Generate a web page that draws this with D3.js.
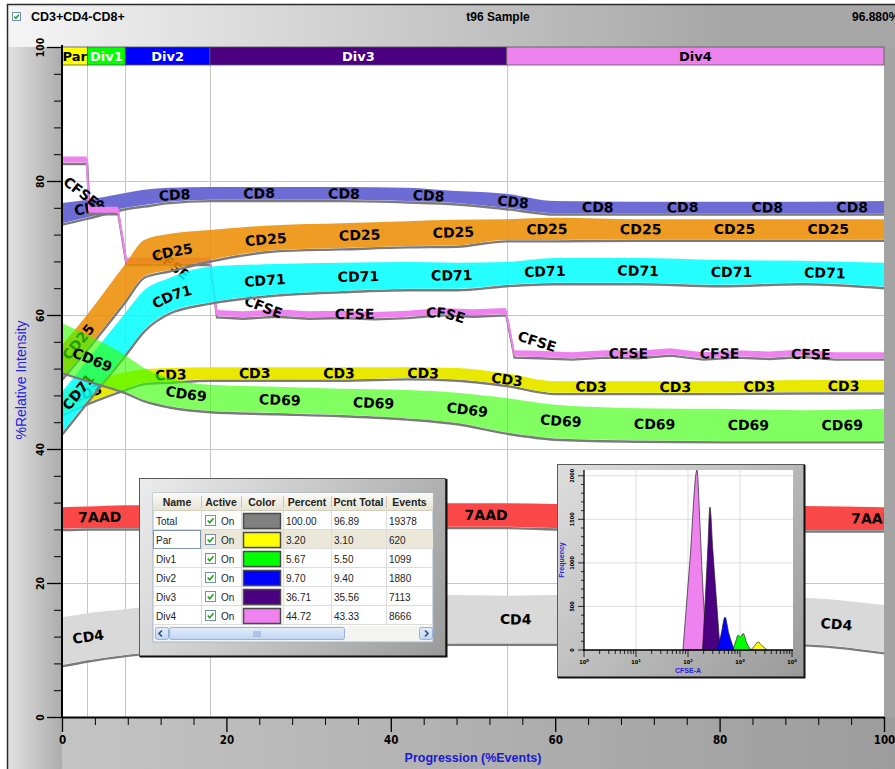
<!DOCTYPE html>
<html>
<head>
<meta charset="utf-8">
<title>t96 Sample – CD3+CD4-CD8+</title>
<script src="https://cdn.jsdelivr.net/npm/d3@7/dist/d3.min.js"></script>
<style>
  html, body { margin: 0; padding: 0; background: #fff; }
  svg { display: block; }
  .band-label { font-family: "DejaVu Sans", Verdana, sans-serif; font-weight: bold; font-size: 14px; fill: #000; dominant-baseline: central; }
  .tick-narrow { font-family: "Liberation Sans Narrow", "DejaVu Sans Condensed", "Arial Narrow", sans-serif; font-weight: bold; }
</style>
</head>
<body>
<svg id="chart" width="895" height="769"></svg>
<script>
// ---------------- data ----------------
// progression grid (%Events) shared by the marker ribbons
const progress = [0, 3.1, 7.7, 10, 13, 18, 26, 34, 42, 48, 54, 60, 70, 80, 90, 100];

// ribbon upper / lower edges, % relative intensity
const cd8Hi  = [76.7, 77.2, 78.2, 78.7, 79.0, 79.1, 79.1, 79.1, 79.0, 78.5, 78.1, 77.0, 76.9, 76.9, 76.9, 77.0];
const cd8Lo  = [73.7, 74.6, 76.0, 76.4, 76.9, 77.2, 77.2, 77.2, 77.0, 76.7, 76.0, 75.2, 75.2, 75.2, 75.2, 75.2];
const cd25Hi = [55.5, 60.1, 67.6, 71.2, 72.1, 72.7, 73.4, 73.7, 74.0, 74.2, 74.3, 74.5, 74.3, 74.3, 74.3, 74.3];
const cd25Lo = [50.6, 55.1, 62.2, 65.8, 66.7, 68.2, 69.7, 70.0, 70.3, 70.4, 71.2, 71.2, 71.3, 71.3, 71.3, 71.3];
const cd71Hi = [48.5, 53.3, 60.3, 63.7, 65.5, 67.2, 67.6, 67.8, 67.9, 67.8, 67.9, 68.5, 68.5, 68.2, 68.1, 67.8];
const cd71Lo = [42.4, 47.2, 54.2, 57.8, 60.4, 61.9, 63.1, 63.6, 63.9, 63.9, 64.5, 64.8, 64.8, 64.5, 64.8, 64.2];
const cd3Hi  = [48.8, 49.9, 51.5, 51.9, 52.1, 52.2, 52.2, 52.2, 52.2, 52.1, 51.3, 50.1, 50.1, 50.1, 50.3, 50.3];
const cd3Lo  = [45.2, 46.9, 49.0, 49.9, 50.1, 50.4, 50.4, 50.4, 50.6, 50.4, 49.6, 48.4, 48.4, 48.4, 48.5, 48.5];
const cd69Hi = [58.8, 57.0, 54.0, 52.1, 50.6, 49.6, 49.3, 49.0, 48.8, 48.4, 47.6, 46.6, 46.1, 46.0, 45.8, 46.0];
const cd69Lo = [51.5, 50.3, 48.5, 47.3, 46.4, 45.7, 45.4, 45.1, 44.6, 43.9, 42.5, 41.6, 41.3, 41.2, 41.2, 41.2];
const aadHi  = [31.3, 31.4, 31.6, 31.6, 31.6, 31.6, 31.7, 31.8, 31.9, 31.9, 31.9, 31.8, 31.6, 31.6, 31.5, 31.3];
const aadLo  = [28.1, 28.2, 28.2, 28.2, 28.2, 28.2, 28.3, 28.4, 28.4, 28.4, 28.4, 28.2, 28.1, 28.1, 27.9, 27.9];
const cd4Hi  = [14.9, 15.5, 16.1, 16.4, 16.7, 17.0, 17.5, 17.8, 18.1, 18.2, 18.1, 18.2, 18.1, 18.0, 17.8, 16.7];
const cd4Lo  = [7.8, 8.5, 9.3, 9.6, 9.8, 10.0, 10.4, 10.7, 10.9, 11.0, 11.0, 11.0, 11.0, 11.0, 10.9, 9.7];

// CFSE intensity steps down with each division
const cfseProgress = [0, 3.0, 3.3, 6.8, 7.8, 12, 18.0, 18.8, 22, 26, 30, 34, 38, 42, 46, 50, 54.0, 55.0, 58, 62, 66, 70, 74, 78, 82, 86, 90, 94, 100];
const cfseLevel    = [83.2, 83.2, 75.7, 75.7, 68.1, 68.1, 68.1, 60.3, 60.1, 60.4, 60.1, 60.2, 60.0, 60.2, 60.6, 60.4, 60.6, 54.3, 54.2, 54.0, 54.3, 54.2, 54.6, 54.0, 54.3, 54.1, 54.4, 54.0, 54.0];

// division gates along the progression axis
const divisionNames  = ["Par", "Div1", "Div2", "Div3", "Div4"];
const divisionBounds = [0, 3.1, 7.7, 18.0, 54.1, 100];

// population table
const tableHeaders   = ["Name", "Active", "Color", "Percent", "Pcnt Total", "Events"];
const tableNames     = ["Total", "Par", "Div1", "Div2", "Div3", "Div4"];
const tablePercent   = [100.00, 3.20, 5.67, 9.70, 36.71, 44.72];
const tablePcntTotal = [96.89, 3.10, 5.50, 9.40, 35.56, 43.33];
const tableEvents    = [19378, 620, 1099, 1880, 7113, 8666];

// CFSE-A histogram per generation: [CFSE-A, frequency]
const histPar  = [[1620, 0], [1950, 55], [2220, 92], [2650, 50], [3300, 0]];
const histDiv1 = [[733, 0], [850, 120], [914, 170], [1030, 150], [1148, 190], [1350, 80], [1620, 0]];
const histDiv2 = [[355, 0], [430, 170], [515, 378], [610, 190], [780, 0]];
const histDiv3 = [[190, 0], [222, 750], [242, 1200], [264, 1640], [300, 1150], [345, 650], [415, 0]];
const histDiv4 = [[80, 0], [109, 1030], [149, 2066], [168, 1500], [190, 800], [215, 250], [235, 0]];
const histTicksY = [0, 500, 1000, 1500, 2000];

// ---------------- styles ----------------
const divisionColors = { Par: "#ffff00", Div1: "#00ff00", Div2: "#0000ff", Div3: "#4b0082", Div4: "#ee82ee", Total: "#808080" };
const divisionText   = { Par: "#000", Div1: "#fff", Div2: "#fff", Div3: "#fff", Div4: "#000" };
const markerStyle = {
  CD4:  { color: "#d9d9d9", opacity: 1,    labelStart: 3.2, labelStep: 13.0 },
  "7AAD": { color: "#fa4848", opacity: 1,  labelStart: 4.6, labelStep: 11.75 },
  CD8:  { color: "#6c6cd4", opacity: 1,    labelStart: 3.4, labelStep: 10.3 },
  CFSE: { color: "#ee82ee", opacity: 1,    labelStart: 2.3, labelStep: 11.1, smooth: 8, core: 2 },
  CD3:  { color: "#e8e800", opacity: 1,    labelStart: 3.0, labelStep: 10.23 },
  CD71: { color: "#00ffff", opacity: 0.85, labelStart: 2.0, labelStep: 11.35 },
  CD25: { color: "#eb8c00", opacity: 0.86, labelStart: 2.0, labelStep: 11.4 },
  CD69: { color: "#33ff00", opacity: 0.62, labelStart: 3.7, labelStep: 11.4 }
};
const CFSE_HALF = 0.45;

// ---------------- scaffolding ----------------
const W = 895, H = 769;
const svg = d3.select("#chart");
const defs = svg.append("defs");

function linGrad(id, x1, y1, x2, y2, stops) {
  const g = defs.append("linearGradient").attr("id", id).attr("gradientUnits", "userSpaceOnUse")
    .attr("x1", x1).attr("y1", y1).attr("x2", x2).attr("y2", y2);
  stops.forEach(([o, c]) => g.append("stop").attr("offset", o).attr("stop-color", c));
}
linGrad("gHead", 7, 0, 720, 0, [[0, "#f5f5f5"], [1, "#a7a7a7"]]);
linGrad("gLeft", 7, 0, 62, 0, [[0, "#e2e2e2"], [1, "#acacac"]]);
linGrad("gBottom", 62, 0, 895, 0, [[0, "#c4c4c4"], [1, "#9c9c9c"]]);
linGrad("gTable", 139, 478, 446, 657, [[0, "#ececec"], [0.5, "#c4c4c4"], [1, "#9a9a9a"]]);
linGrad("gHist", 557, 464, 805, 678, [[0, "#dedede"], [0.5, "#bcbcbc"], [1, "#999"]]);
linGrad("gHeadRow", 0, 493, 0, 511, [[0, "#fbfaf5"], [1, "#e6e3d4"]]);
linGrad("gThumb", 0, 627, 0, 641, [[0, "#e4eefc"], [1, "#bcd2f2"]]);

// window background panels
svg.append("rect").attr("width", W).attr("height", H).attr("fill", "#fff");
svg.append("rect").attr("x", 7).attr("y", 4).attr("width", W - 7).attr("height", 44).attr("fill", "url(#gHead)");
svg.append("rect").attr("x", 7).attr("y", 47).attr("width", 55).attr("height", H - 47).attr("fill", "url(#gLeft)");
svg.append("rect").attr("x", 62).attr("y", 717).attr("width", W - 62).attr("height", H - 717).attr("fill", "url(#gBottom)");
svg.append("rect").attr("x", 884).attr("y", 47).attr("width", 11).attr("height", 670).attr("fill", "#a3a3a3");
svg.append("path").attr("d", `M7.5,${H}V4.5H${W}`).attr("fill", "none").attr("stroke", "#2a2a2a").attr("stroke-width", 1.5);

// title row
const chk = (g, cx, cy, s) => {
  g.append("rect").attr("x", cx).attr("y", cy).attr("width", s).attr("height", s)
    .attr("fill", "#fff").attr("stroke", "#6f8fb3").attr("stroke-width", 1);
  g.append("path").attr("d", `M${cx + s * 0.22},${cy + s * 0.5} L${cx + s * 0.42},${cy + s * 0.72} L${cx + s * 0.8},${cy + s * 0.28}`)
    .attr("fill", "none").attr("stroke", "#22a122").attr("stroke-width", 1.6);
};
chk(svg, 12.5, 12.5, 8);
svg.append("text").attr("x", 31).attr("y", 21).attr("font-family", "Liberation Sans, Arial, sans-serif")
  .attr("font-weight", "bold").attr("font-size", 12.5).text("CD3+CD4-CD8+");
svg.append("text").attr("x", 498).attr("y", 21).attr("text-anchor", "middle").attr("font-family", "Liberation Sans, Arial, sans-serif")
  .attr("font-weight", "bold").attr("font-size", 12).text("t96 Sample");
svg.append("text").attr("x", 852).attr("y", 21).attr("font-family", "Liberation Sans, Arial, sans-serif")
  .attr("font-weight", "bold").attr("font-size", 12).text("96.880%");

// ---------------- main plot ----------------
const plotL = 62, plotR = 884, plotT = 47, plotB = 717;
const x = d3.scaleLinear().domain([0, 100]).range([plotL, plotR]);
const y = d3.scaleLinear().domain([0, 100]).range([plotB, plotT]);

svg.append("rect").attr("x", plotL).attr("y", plotT).attr("width", plotR - plotL).attr("height", plotB - plotT).attr("fill", "#fff");

const grid = svg.append("g").attr("stroke", "#c6c6c6").attr("stroke-width", 1);
[20, 40, 60, 80].forEach(v => grid.append("line").attr("x1", plotL).attr("x2", plotR).attr("y1", Math.round(y(v)) + 0.5).attr("y2", Math.round(y(v)) + 0.5));
divisionBounds.slice(1, -1).forEach(v => grid.append("line").attr("x1", Math.round(x(v)) + 0.5).attr("x2", Math.round(x(v)) + 0.5).attr("y1", plotT).attr("y2", plotB));

defs.append("clipPath").attr("id", "plotClip").append("rect")
  .attr("x", plotL).attr("y", plotT).attr("width", plotR - plotL).attr("height", plotB - plotT);
const bandLayer = svg.append("g").attr("clip-path", "url(#plotClip)");

const bands = [
  { name: "CD4",  xs: progress, hi: cd4Hi,  lo: cd4Lo },
  { name: "7AAD", xs: progress, hi: aadHi,  lo: aadLo },
  { name: "CD8",  xs: progress, hi: cd8Hi,  lo: cd8Lo },
  { name: "CFSE", xs: cfseProgress, hi: cfseLevel.map(v => v + CFSE_HALF), lo: cfseLevel.map(v => v - CFSE_HALF), step: true },
  { name: "CD3",  xs: progress, hi: cd3Hi,  lo: cd3Lo },
  { name: "CD71", xs: progress, hi: cd71Hi, lo: cd71Lo },
  { name: "CD25", xs: progress, hi: cd25Hi, lo: cd25Lo },
  { name: "CD69", xs: progress, hi: cd69Hi, lo: cd69Lo }
];

// arc length along a guide path at a given screen x
function arcAtX(node, px) {
  let a = 0, b = node.getTotalLength();
  for (let k = 0; k < 32; k++) {
    const m = (a + b) / 2;
    if (node.getPointAtLength(m).x < px) a = m; else b = m;
  }
  return (a + b) / 2;
}

// box-smoothed centre line used to lay text over stepped ribbons
function smoothGuide(xs, mids, half) {
  const f = xv => {
    if (xv <= xs[0]) return mids[0];
    if (xv >= xs[xs.length - 1]) return mids[mids.length - 1];
    const i = d3.bisectRight(xs, xv) - 1;
    const t = (xv - xs[i]) / (xs[i + 1] - xs[i]);
    return mids[i] + t * (mids[i + 1] - mids[i]);
  };
  const out = [];
  for (let xv = 0; xv <= 104; xv += 0.5) {
    let s = 0, n = 0;
    for (let u = xv - half; u <= xv + half + 1e-9; u += 0.25) { s += f(u); n++; }
    out.push([x(xv), y(s / n)]);
  }
  return d3.line()(out);
}

bands.forEach((b, bi) => {
  const st = markerStyle[b.name];
  const pts = b.xs.map((xv, i) => ({ x: xv, hi: b.hi[i], lo: b.lo[i] }));
  const curve = b.step ? d3.curveLinear : d3.curveMonotoneX;
  const area = d3.area().x(d => x(d.x)).y0(d => y(d.lo)).y1(d => y(d.hi)).curve(curve);
  const edge = d3.line().x(d => x(d.x)).y(d => y(d.lo)).curve(curve);
  const centre = d3.line().x(d => x(d.x)).y(d => y((d.hi + d.lo) / 2)).curve(curve);
  const mid  = d3.line().x(d => x(d.x)).y(d => y((d.hi + d.lo) / 2)).curve(d3.curveBasis);
  const g = bandLayer.append("g");

  // drop shadow along the lower edge
  g.append("path").attr("d", edge(pts)).attr("fill", "none").attr("stroke", "#7b7b7b")
    .attr("stroke-width", 2.4).attr("transform", "translate(0.5,1.4)");
  g.append("path").attr("d", area(pts)).attr("fill", st.color).attr("fill-opacity", st.opacity);
  // thin ribbons keep their steep drops visible
  if (st.core) g.append("path").attr("d", centre(pts)).attr("fill", "none").attr("stroke", st.color).attr("stroke-width", st.core);

  // label guide runs a little past the right edge so end labels get clipped, not dropped
  const last = pts[pts.length - 1];
  const guideD = st.smooth
    ? smoothGuide(b.xs, pts.map(d => (d.hi + d.lo) / 2), st.smooth)
    : mid(pts.concat([{ x: 104, hi: last.hi, lo: last.lo }]));
  const gid = "guide" + bi;
  const guide = g.append("path").attr("id", gid).attr("d", guideD).attr("fill", "none").attr("stroke", "none");
  const node = guide.node();
  for (let xv = st.labelStart; xv <= 101.5; xv += st.labelStep) {
    g.append("text").attr("class", "band-label")
      .append("textPath").attr("href", "#" + gid).attr("startOffset", arcAtX(node, x(xv)))
      .attr("text-anchor", "middle").text(b.name);
  }
});

// division bar across the top of the plot
const divBar = svg.append("g");
divisionNames.forEach((n, i) => {
  const x0 = x(divisionBounds[i]), x1 = x(divisionBounds[i + 1]);
  divBar.append("rect").attr("x", x0).attr("y", plotT).attr("width", x1 - x0).attr("height", 18)
    .attr("fill", divisionColors[n]).attr("stroke", "#555").attr("stroke-width", 0.8);
  divBar.append("text").attr("x", (x0 + x1) / 2).attr("y", plotT + 9).attr("text-anchor", "middle")
    .attr("dominant-baseline", "central").attr("font-family", "DejaVu Sans, Verdana, sans-serif")
    .attr("font-weight", "bold").attr("font-size", 13).attr("fill", divisionText[n]).text(n);
});

// axes
const yMajor = d3.range(0, 101, 20), yMinor = d3.range(0, 101, 4).filter(v => v % 20);
const xMajor = d3.range(0, 101, 20), xMinor = d3.range(0, 101, 4).filter(v => v % 20);

const yAxisG = svg.append("g").attr("transform", `translate(${plotL},0)`);
yAxisG.append("g").call(d3.axisLeft(y).tickValues(yMinor).tickSize(8).tickFormat("")).call(g => g.select(".domain").remove());
yAxisG.append("g").call(d3.axisLeft(y).tickValues(yMajor).tickSize(15).tickSizeOuter(0))
  .call(g => g.select(".domain").attr("stroke-width", 2).attr("d", `M0,${plotB + 1}V${plotT - 2}`))
  .call(g => g.selectAll(".tick line").attr("stroke-width", 1.3))
  .call(g => g.selectAll(".tick text").attr("class", "tick-narrow").attr("font-size", 10.5).attr("fill", "#000")
    .attr("transform", "rotate(-90)").attr("x", 0).attr("y", -22).attr("dy", "0.35em").attr("text-anchor", "middle"));
yAxisG.selectAll(".tick line").attr("stroke", "#000");

const xAxisG = svg.append("g").attr("transform", `translate(0,${plotB})`);
xAxisG.append("g").call(d3.axisBottom(x).tickValues(xMinor).tickSize(8).tickFormat("")).call(g => g.select(".domain").remove());
xAxisG.append("g").call(d3.axisBottom(x).tickValues(xMajor).tickSize(15).tickSizeOuter(0).tickPadding(4))
  .call(g => g.select(".domain").attr("stroke-width", 2))
  .call(g => g.selectAll(".tick line").attr("stroke-width", 1.3))
  .call(g => g.selectAll(".tick text").attr("class", "tick-narrow").attr("font-size", 11.5).attr("fill", "#000"));
xAxisG.selectAll(".tick line").attr("stroke", "#000");

svg.append("text").attr("transform", "translate(21,380) rotate(-90)").attr("text-anchor", "middle")
  .attr("dy", "0.35em").attr("font-family", "Liberation Sans, Arial, sans-serif").attr("font-size", 14).attr("fill", "#2222dd")
  .text("%Relative Intensity");
svg.append("text").attr("x", 473).attr("y", 762).attr("text-anchor", "middle")
  .attr("font-family", "Liberation Sans, Arial, sans-serif").attr("font-weight", "bold").attr("font-size", 12.5)
  .attr("fill", "#1a1ad0").text("Progression (%Events)");

// ---------------- population table ----------------
const tbl = svg.append("g");
tbl.append("rect").attr("x", 139.5).attr("y", 478.5).attr("width", 306).attr("height", 178).attr("fill", "url(#gTable)")
  .attr("stroke", "#5a5a5a").attr("stroke-width", 1);
tbl.append("path").attr("d", "M140,656.5H446.5V479").attr("fill", "none").attr("stroke", "#111").attr("stroke-width", 2);

const colX = [153, 201, 241, 283, 331, 386, 433];
const headY = 493, headH = 18, rowH = 19;
const rowsTop = headY + headH;
tbl.append("rect").attr("x", colX[0]).attr("y", headY).attr("width", colX[6] - colX[0]).attr("height", headH + rowH * 6 + 17)
  .attr("fill", "#fff").attr("stroke", "#9fb2c8").attr("stroke-width", 1);
tbl.append("rect").attr("x", colX[0]).attr("y", headY).attr("width", colX[6] - colX[0]).attr("height", headH).attr("fill", "url(#gHeadRow)");
tbl.append("line").attr("x1", colX[0]).attr("x2", colX[6]).attr("y1", rowsTop - 0.5).attr("y2", rowsTop - 0.5).attr("stroke", "#d3cfbd");
tableHeaders.forEach((h, i) => {
  tbl.append("text").attr("x", (colX[i] + colX[i + 1]) / 2).attr("y", headY + 13).attr("text-anchor", "middle")
    .attr("font-family", "Liberation Sans, Arial, sans-serif").attr("font-weight", "bold").attr("font-size", 10.5)
    .attr("fill", "#222").text(h);
  if (i > 0) tbl.append("line").attr("x1", colX[i] + 0.5).attr("x2", colX[i] + 0.5).attr("y1", headY + 3).attr("y2", rowsTop - 3).attr("stroke", "#c9c5b3");
});
const fmt2 = d3.format(".2f");
tableNames.forEach((n, r) => {
  const ry = rowsTop + r * rowH;
  if (n === "Par") tbl.append("rect").attr("x", colX[1]).attr("y", ry).attr("width", colX[6] - colX[1]).attr("height", rowH).attr("fill", "#ebe8da");
  tbl.append("line").attr("x1", colX[0]).attr("x2", colX[6]).attr("y1", ry + rowH - 0.5).attr("y2", ry + rowH - 0.5).attr("stroke", "#dcdcdc");
  const tx = (v, xx) => tbl.append("text").attr("x", xx).attr("y", ry + 13.5).attr("font-family", "Liberation Sans, Arial, sans-serif")
    .attr("font-size", 10).attr("fill", "#222").text(v);
  tx(n, colX[0] + 3);
  if (n === "Par") tbl.append("rect").attr("x", colX[0] + 0.5).attr("y", ry + 0.5).attr("width", colX[1] - colX[0] - 1).attr("height", rowH - 1)
    .attr("fill", "none").attr("stroke", "#7d95b1");
  chk(tbl, colX[1] + 4.5, ry + 4.5, 10);
  tx("On", colX[1] + 20);
  tbl.append("rect").attr("x", colX[2] + 2.5).attr("y", ry + 2.5).attr("width", colX[3] - colX[2] - 5).attr("height", rowH - 4)
    .attr("fill", divisionColors[n]).attr("stroke", "#4a4a4a").attr("stroke-width", 1.5);
  tx(fmt2(tablePercent[r]), colX[3] + 3);
  tx(fmt2(tablePcntTotal[r]), colX[4] + 3);
  tx(tableEvents[r], colX[5] + 3);
});
for (let i = 1; i < 6; i++) tbl.append("line").attr("x1", colX[i] + 0.5).attr("x2", colX[i] + 0.5).attr("y1", rowsTop).attr("y2", rowsTop + rowH * 6).attr("stroke", "#dcdcdc");
// horizontal scroll bar
const sbY = rowsTop + rowH * 6 + 1;
tbl.append("rect").attr("x", colX[0] + 1).attr("y", sbY).attr("width", colX[6] - colX[0] - 2).attr("height", 15).attr("fill", "#f3f3f0");
tbl.append("rect").attr("x", 169.5).attr("y", sbY + 1.5).attr("width", 175).attr("height", 12).attr("rx", 2)
  .attr("fill", "url(#gThumb)").attr("stroke", "#98b2dc");
[-3, -1, 1, 3].forEach(d => tbl.append("line").attr("x1", 257 + d).attr("x2", 257 + d).attr("y1", sbY + 5).attr("y2", sbY + 11).attr("stroke", "#8aa6d6"));
[[155, "M162,%y1L159,%y2L162,%y3"], [419, "M425,%y1L428,%y2L425,%y3"]].forEach(([bx, p]) => {
  tbl.append("rect").attr("x", bx + 0.5).attr("y", sbY + 1.5).attr("width", 13).attr("height", 12).attr("rx", 2)
    .attr("fill", "url(#gThumb)").attr("stroke", "#98b2dc");
  tbl.append("path").attr("d", p.replace("%y1", sbY + 4.5).replace("%y2", sbY + 7.5).replace("%y3", sbY + 10.5))
    .attr("fill", "none").attr("stroke", "#2a4a8a").attr("stroke-width", 1.6);
});

// ---------------- CFSE-A histogram ----------------
const hist = svg.append("g");
hist.append("rect").attr("x", 557.5).attr("y", 464.5).attr("width", 247).attr("height", 213).attr("fill", "url(#gHist)")
  .attr("stroke", "#5a5a5a").attr("stroke-width", 1);
hist.append("path").attr("d", "M558,677.5H804.5V465").attr("fill", "none").attr("stroke", "#111").attr("stroke-width", 2);

const hx = d3.scaleLog().domain([1, 1e4]).range([584, 792]);
const hy = d3.scaleLinear().domain([0, 2066]).range([650, 470]);
hist.append("rect").attr("x", 584).attr("y", 470).attr("width", 209).attr("height", 180).attr("fill", "#fff");
const hgrid = hist.append("g").attr("stroke", "#d4d4d4").attr("stroke-width", 0.8);
[10, 100, 1000].forEach(v => hgrid.append("line").attr("x1", hx(v)).attr("x2", hx(v)).attr("y1", 470).attr("y2", 650));
histTicksY.slice(1).forEach(v => hgrid.append("line").attr("x1", 584).attr("x2", 793).attr("y1", hy(v)).attr("y2", hy(v)));

const hArea = d3.area().x(d => hx(d[0])).y0(hy(0)).y1(d => hy(d[1])).curve(d3.curveMonotoneX);
[[histDiv4, "Div4"], [histDiv3, "Div3"], [histDiv2, "Div2"], [histDiv1, "Div1"], [histPar, "Par"]].forEach(([d, n]) => {
  hist.append("path").attr("d", hArea(d)).attr("fill", divisionColors[n]).attr("stroke", "#222").attr("stroke-width", 0.7);
});

// histogram axes
const ha = hist.append("g").attr("stroke", "#000");
ha.append("line").attr("x1", 584).attr("x2", 584).attr("y1", 470).attr("y2", 651).attr("stroke-width", 1.3);
ha.append("line").attr("x1", 583).attr("x2", 793).attr("y1", 650).attr("y2", 650).attr("stroke-width", 1.3);
d3.range(0, 2001, 100).forEach(v => ha.append("line").attr("x1", v % 500 ? 581 : 578).attr("x2", 584).attr("y1", hy(v)).attr("y2", hy(v)).attr("stroke-width", 0.8));
[1, 10, 100, 1000].forEach(dec => d3.range(1, 10).forEach(m => {
  const v = dec * m;
  ha.append("line").attr("x1", hx(v)).attr("x2", hx(v)).attr("y1", 650).attr("y2", m === 1 ? 657 : 654).attr("stroke-width", 0.8);
}));
ha.append("line").attr("x1", hx(1e4)).attr("x2", hx(1e4)).attr("y1", 650).attr("y2", 657).attr("stroke-width", 0.8);
histTicksY.forEach(v => hist.append("text").attr("transform", `translate(572,${hy(v)}) rotate(-90)`).attr("text-anchor", "middle")
  .attr("dy", "0.35em").attr("class", "tick-narrow").attr("font-size", 5.5).text(v));
[0, 1, 2, 3, 4].forEach(e => {
  const t = hist.append("text").attr("x", hx(Math.pow(10, e))).attr("y", 664).attr("text-anchor", "middle")
    .attr("class", "tick-narrow").attr("font-size", 5.5);
  t.append("tspan").text("10");
  t.append("tspan").attr("dy", -2.5).attr("font-size", 4.2).text(e);
});
hist.append("text").attr("transform", "translate(564,560) rotate(-90)").attr("text-anchor", "middle")
  .attr("font-family", "Liberation Sans, Arial, sans-serif").attr("font-weight", "bold").attr("font-size", 7).attr("fill", "#2222dd").text("Frequency");
hist.append("text").attr("x", 688).attr("y", 673).attr("text-anchor", "middle")
  .attr("font-family", "Liberation Sans, Arial, sans-serif").attr("font-weight", "bold").attr("font-size", 7).attr("fill", "#2222dd").text("CFSE-A");
</script>
</body>
</html>
